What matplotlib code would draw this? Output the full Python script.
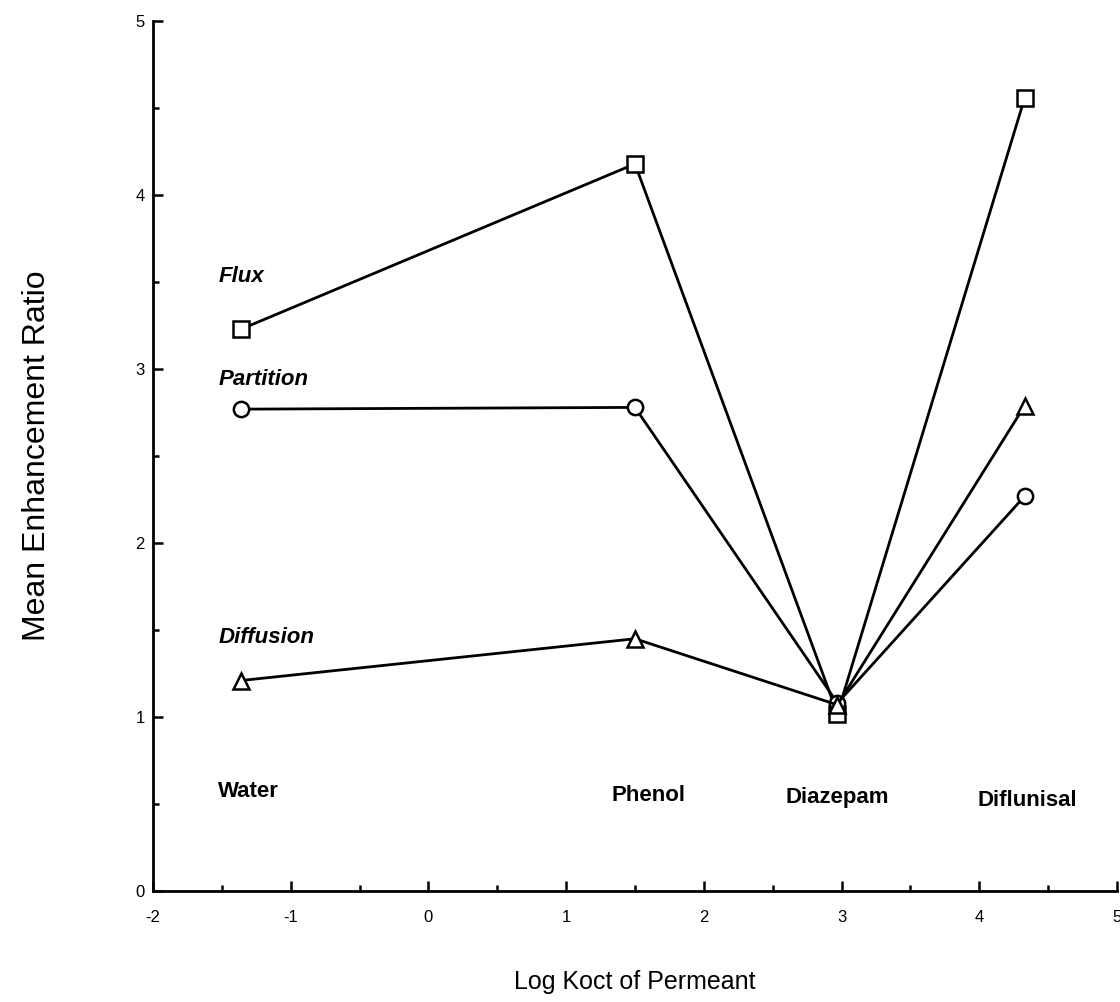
import numpy as np
import matplotlib.pyplot as plt
from matplotlib.ticker import MultipleLocator

plt.rcParams['font.family'] = ['Liberation Sans', 'DejaVu Sans']
plt.rcParams['axes.unicode_minus'] = False

# log Koct for each permeant
log_koct = [-1.36, 1.50, 2.97, 4.33]
permeants = ['Water', 'Phenol', 'Diazepam', 'Diflunisal']

flux = [3.23, 4.18, 1.02, 4.56]
partition = [2.77, 2.78, 1.08, 2.27]
diffusion = [1.21, 1.45, 1.07, 2.79]

fig = plt.figure(figsize=(11.2, 10.02), dpi=100)
ax = fig.add_axes([0.1366, 0.1108, 0.8607, 0.868])

ms = 11
ax.plot(log_koct, flux, 'k-', lw=2, marker='s', ms=ms, mfc='white', mew=1.8)
ax.plot(log_koct, partition, 'k-', lw=2, marker='o', ms=ms, mfc='white', mew=1.8)
ax.plot(log_koct, diffusion, 'k-', lw=2, marker='^', ms=ms, mfc='white', mew=1.8)

# series labels
ax.text(-1.52, 3.53, 'Flux', fontsize=16, style='italic', fontweight='bold', ha='left', va='center')
ax.text(-1.52, 2.94, 'Partition', fontsize=16, style='italic', fontweight='bold', ha='left', va='center')
ax.text(-1.52, 1.46, 'Diffusion', fontsize=16, style='italic', fontweight='bold', ha='left', va='center')

# permeant names
name_x = [-1.53, 1.60, 2.97, 4.35]
name_ha = ['left', 'center', 'center', 'center']
name_y = [0.57, 0.55, 0.54, 0.52]
for nx, ny, nm, h in zip(name_x, name_y, permeants, name_ha):
    ax.text(nx, ny, nm, fontsize=16, fontweight='bold', ha=h, va='center')

ax.set_xlim(-2, 5)
ax.set_ylim(0, 5)
ax.xaxis.set_major_locator(MultipleLocator(1))
ax.xaxis.set_minor_locator(MultipleLocator(0.5))
ax.yaxis.set_major_locator(MultipleLocator(1))
ax.yaxis.set_minor_locator(MultipleLocator(0.5))
ax.tick_params(which='both', direction='in', width=1.8, labelsize=12)
ax.tick_params(which='major', length=7)
ax.tick_params(which='minor', length=4)
ax.tick_params(axis='x', pad=14)
ax.tick_params(axis='y', pad=6)
ax.spines['top'].set_visible(False)
ax.spines['right'].set_visible(False)
ax.spines['left'].set_linewidth(2)
ax.spines['bottom'].set_linewidth(2)

ax.set_xlabel('Log Koct of Permeant', fontsize=18, labelpad=32)
ax.set_ylabel('Mean Enhancement Ratio', fontsize=23, labelpad=60)

fig.savefig('out.png', dpi=100)
